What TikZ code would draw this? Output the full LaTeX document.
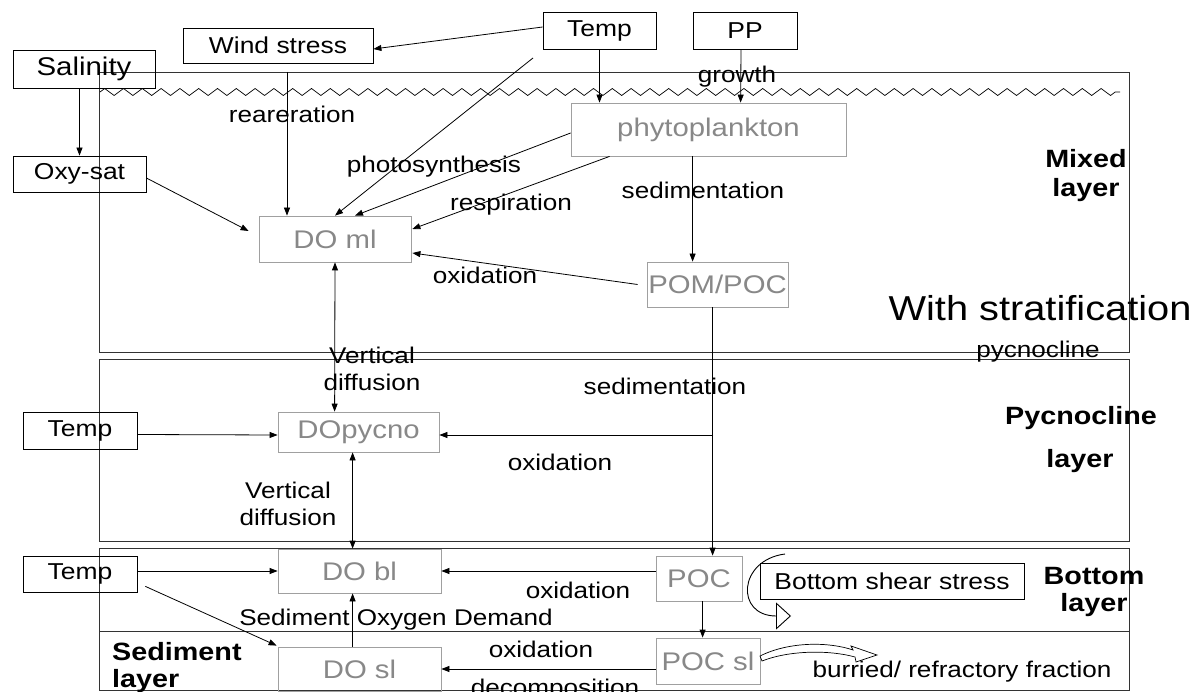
\documentclass[tikz,border=0pt]{standalone}
\usepackage{fontspec}
\setmainfont{Liberation Sans}[FakeStretch=1.15]
\usetikzlibrary{arrows.meta,calc,decorations.pathmorphing}
\definecolor{gline}{HTML}{A0A0A0}
\definecolor{gtext}{HTML}{888888}
\definecolor{lay}{HTML}{333333}
\newcommand\fsLab{\fontsize{22.7}{27}\selectfont}
\newcommand\fsBox{\fontsize{23}{27}\selectfont}
\newcommand\fsSal{\fontsize{25.6}{29}\selectfont}
\newcommand\fsGray{\fontsize{25.5}{29}\selectfont}
\newcommand\fsBig{\fontsize{34.6}{40}\selectfont}
\newcommand\fsBold{\fontsize{25}{29}\selectfont\bfseries}
\begin{document}
\begin{tikzpicture}[x=1pt,y=-1pt,
  blk/.style={draw=black, line width=0.8pt, inner sep=0pt, font=\fsBox},
  gbox/.style={draw=gline, line width=0.8pt, inner sep=0pt, text=gtext, font=\fsGray},
  lab/.style={inner sep=0pt, font=\fsLab},
  boldlab/.style={inner sep=0pt, font=\fsBold},
  layerbox/.style={draw=lay, line width=0.9pt},
  arr/.style={line width=0.8pt, -{Triangle[length=8pt,width=6pt]}},
  darr/.style={line width=0.8pt, {Triangle[length=8pt,width=6pt]}-{Triangle[length=8pt,width=6pt]}},
  ln/.style={line width=0.8pt}
]
\useasboundingbox (0,0) rectangle (1196,692);

% layer boxes
\draw[layerbox] (99,72) rectangle (1129,352);
\draw[layerbox] (99,359) rectangle (1129,541);
\draw[layerbox] (99,548) rectangle (1129,631);
\draw[layerbox] (99,631) rectangle (1129,690);
\draw[line width=0.7pt, decorate, decoration={zigzag, segment length=18.8pt, amplitude=3.5pt}] (100,92) -- (1120,92);

% black boxes
\node[blk, minimum width=142pt, minimum height=38pt, font=\fsSal] (sal) at (84,69) {Salinity};
\node[blk, minimum width=190pt, minimum height=35pt] (wind) at (278,45.5) {Wind stress};
\node[blk, minimum width=113pt, minimum height=37pt] (tempT) at (599.5,30.5) {Temp};
\node[blk, minimum width=104pt, minimum height=37pt] (pp) at (745,30.5) {PP};
\node[blk, minimum width=133pt, minimum height=36pt] (oxy) at (79.5,174) {Oxy-sat};
\node[blk, minimum width=114pt, minimum height=37pt] (tempP) at (80,430.5) {Temp};
\node[blk, minimum width=114pt, minimum height=36pt] (tempB) at (80,574) {Temp};
\node[blk, minimum width=264pt, minimum height=36pt] (bss) at (892,581) {Bottom shear stress};

% gray boxes
\node[gbox, minimum width=275pt, minimum height=53pt] (phyto) at (708.5,129.5) {phytoplankton};
\node[gbox, minimum width=152pt, minimum height=46pt] (doml) at (335,239) {DO ml};
\node[gbox, minimum width=141pt, minimum height=45pt] (pom) at (717.5,284.5) {POM/POC};
\node[gbox, minimum width=161pt, minimum height=40pt] (dopy) at (358.5,432) {DOpycno};
\node[gbox, minimum width=163pt, minimum height=44pt] (dobl) at (359.5,571) {DO bl};
\node[gbox, minimum width=163pt, minimum height=44pt] (dosl) at (359.5,669) {DO sl};
\node[gbox, minimum width=86pt, minimum height=45pt] (poc) at (699,578.5) {POC};
\node[gbox, minimum width=104pt, minimum height=46pt] (pocsl) at (708,661) {POC sl};

% free coordinates
\coordinate (rear) at (287,72);
\coordinate (tdiag) at (533,58);
\coordinate (branch) at (713,435);

% connectors
\draw[arr] (tempT.west |- 0,27) -- (wind.east |- 0,49);
\draw[arr] (oxy.north |- sal.south) -- (oxy.north);
\draw[arr] ($(oxy.east)+(0,4)$) -- ($(doml.west)+(-10,-8)$);
\draw[arr] (rear) -- (doml.north -| rear);
\draw[arr] (tdiag) -- (doml.north);
\draw[arr] ($(phyto.west)+(0,3.5)$) -- ($(doml.north)+(20,0)$);
\draw[arr] ($(phyto.south west)+(39,0)$) -- ($(doml.east)+(1,-10)$);
\draw[arr] ($(pom.west)+(-9,0)$) -- ($(doml.east)+(1,14)$);
\draw[arr] (tempT.south) -- (tempT.south |- phyto.north);
\draw[arr] ($(pp.south)+(-4,0)$) -- ($(phyto.north west)+(170,0)$);
\draw[arr] ($(phyto.south west)+(122,0)$) -- ($(pom.north west)+(46,0)$);
\draw[arr] ($(pom.south west)+(66,0)$) -- ($(poc.north west)+(57,0)$);
\draw[arr] (branch) -- (dopy.east |- branch);
\draw[darr] (doml.south) -- ($(dopy.north west)+(57,0)$);
\draw[darr] ($(dopy.south west)+(75,0)$) -- ($(dobl.north west)+(75,0)$);
\draw[arr] ($(tempP.east)+(0,4)$) -- ($(dopy.west)+(0,3)$);
\draw[arr] ($(tempB.east)+(0,-3)$) -- (dobl.west);
\draw[arr] ($(tempB.south east)+(8,-6)$) -- ($(dosl.north west)+(-1,-1)$);
\draw[arr] ($(poc.west)+(0,-7.5)$) -- (dobl.east);
\draw[arr] ($(poc.south west)+(47,0)$) -- ($(pocsl.north west)+(47,0)$);
\draw[arr] ($(pocsl.west)+(0,8)$) -- (dosl.east);
\draw[arr] ($(dosl.north west)+(75,0)$) -- ($(dobl.south west)+(75,0)$);

% bottom shear stress curved arrow
\draw[line width=0.9pt, -{Triangle[open, length=15pt, width=27pt, fill=white]}] (785,554) .. controls (738,560) and (735,616) .. (791,616);
% burial hollow arrow
\draw[line width=0.7pt, fill=white] (760,656) .. controls (790,641) and (830,642) .. (853,650) -- (851,646) -- (877,655) -- (856,662) -- (855,657) .. controls (830,650) and (790,650) .. (762,661) -- cycle;

% labels
\node[lab] (l1) at (292,114) {reareration};
\node[lab] (l2) at (737,77) {growth};
\node[lab] (l3) at (434,167) {photosynthesis};
\node[lab] (l4) at (511,205) {respiration};
\node[lab] (l5) at (703,190) {sedimentation};
\node[lab] (l6) at (485,275) {oxidation};
\node[lab, align=center] (l7) at (372,369) {Vertical\\diffusion};
\node[lab] (l8) at (665,386) {sedimentation};
\node[lab] (l9) at (560,462) {oxidation};
\node[lab, align=center] (l10) at (288,504) {Vertical\\diffusion};
\node[lab] (l11) at (578,590) {oxidation};
\node[lab] (l12) at (396,620) {Sediment Oxygen Demand};
\node[lab] (l13) at (541,649) {oxidation};
\node[lab] (l14) at (555,690) {decomposition};
\node[lab] (l15) at (962,672) {burried/ refractory fraction};
\node[lab] (l16) at (1038,352) {pycnocline};
\node[inner sep=0pt, font=\fsBig] (l17) at (1040,308) {With stratification};
\node[boldlab, align=center] (m1) at (1086,176) {Mixed\\layer};
\node[boldlab] (p1) at (1081,418) {Pycnocline};
\node[boldlab] (p2) at (1080,461) {layer};
\node[boldlab] (b1) at (1094,576) {Bottom};
\node[boldlab] (b2) at (1094,605) {layer};
\node[boldlab, anchor=west] (s1) at (112,652) {Sediment};
\node[boldlab, anchor=west] (s2) at (112,681) {layer};
\end{tikzpicture}
\end{document}
